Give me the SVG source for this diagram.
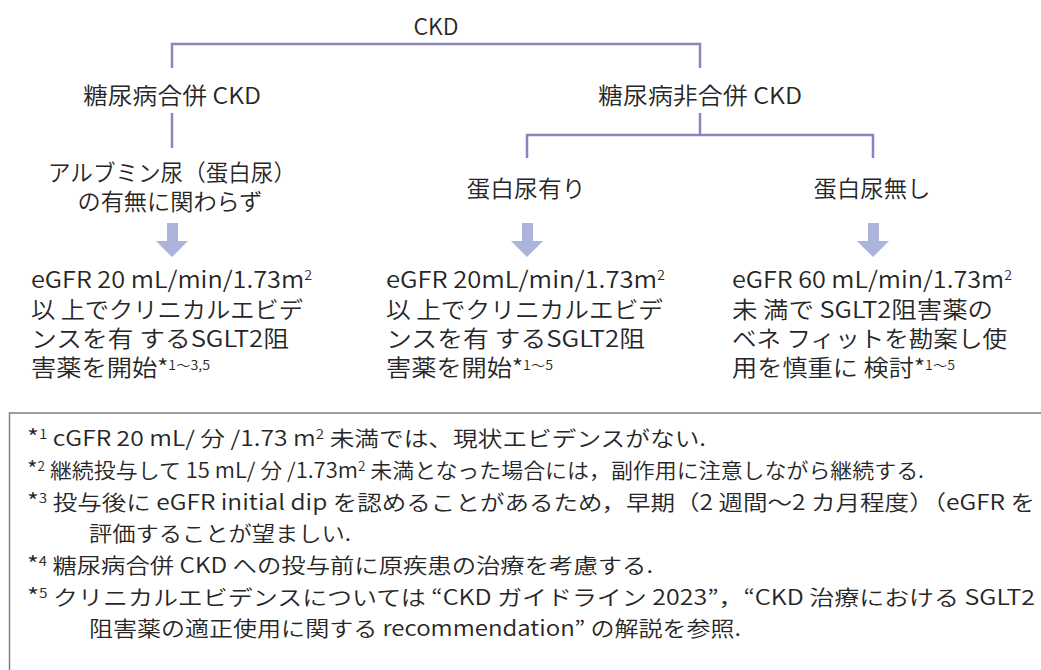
<svg xmlns="http://www.w3.org/2000/svg" width="1041" height="670" viewBox="0 0 1041 670">
<style>
  text { font-family: "Noto Sans CJK JP", "Noto Sans", sans-serif; fill: #262626; font-weight: 350; }
  .h { font-size: 23px; }
  .b { font-size: 23px; }
  .f { font-size: 21px; }
  .sup { font-size: 13px; }
  .ast { font-size: 22px; }
  .conn { fill: none; stroke: #8a84c2; stroke-width: 2.5; }
  .arrow { fill: #adb4dc; }
</style>
<rect width="1041" height="670" fill="#ffffff"/>
<g id="connectors">
  <path class="conn" d="M172,68 V44 H700 V68"/>
  <path class="conn" d="M172,113 V148"/>
  <path class="conn" d="M700,113 V135 M527,158 V135 H873 V158"/>
  <path class="arrow" d="M167,223 H178 V241 H188 L172,257 L156,241 H167 Z"/>
  <path class="arrow" d="M522,223 H533 V241 H543 L527,257 L511,241 H522 Z"/>
  <path class="arrow" d="M868,223 H879 V241 H889 L873,257 L857,241 H868 Z"/>
</g>
<g id="n-ckd"><text class="h" x="436" y="35" text-anchor="middle">CKD</text></g>
<g id="n-dm"><text class="h" x="172" y="104" text-anchor="middle" textLength="178" lengthAdjust="spacingAndGlyphs">糖尿病合併 CKD</text></g>
<g id="n-nondm"><text class="h" x="700" y="104" text-anchor="middle" textLength="204" lengthAdjust="spacingAndGlyphs">糖尿病非合併 CKD</text></g>
<g id="n-alb">
  <text class="h" x="172" y="181" text-anchor="middle" textLength="248" lengthAdjust="spacingAndGlyphs">アルブミン尿（蛋白尿）</text>
  <text class="h" x="170" y="210" text-anchor="middle" textLength="185" lengthAdjust="spacingAndGlyphs">の有無に関わらず</text>
</g>
<g id="n-prot-yes"><text class="h" x="526" y="197" text-anchor="middle" textLength="119" lengthAdjust="spacingAndGlyphs">蛋白尿有り</text></g>
<g id="n-prot-no"><text class="h" x="872" y="197" text-anchor="middle" textLength="117" lengthAdjust="spacingAndGlyphs">蛋白尿無し</text></g>
<g id="n-res1">
  <text class="b" x="31" y="288" textLength="281" lengthAdjust="spacingAndGlyphs">eGFR 20 mL/min/1.73m<tspan class="sup" dy="-8">2</tspan></text>
  <text class="b" x="31" y="318" textLength="272" lengthAdjust="spacingAndGlyphs">以 上でクリニカルエビデ</text>
  <text class="b" x="31" y="347" textLength="258" lengthAdjust="spacingAndGlyphs">ンスを有 するSGLT2阻</text>
  <text class="b" x="31" y="376" textLength="179" lengthAdjust="spacingAndGlyphs">害薬を開始<tspan class="ast">*</tspan><tspan class="sup" dy="-6">1〜3,5</tspan></text>
</g>
<g id="n-res2">
  <text class="b" x="386" y="288" textLength="279" lengthAdjust="spacingAndGlyphs">eGFR 20mL/min/1.73m<tspan class="sup" dy="-8">2</tspan></text>
  <text class="b" x="386" y="318" textLength="277" lengthAdjust="spacingAndGlyphs">以 上でクリニカルエビデ</text>
  <text class="b" x="386" y="347" textLength="259" lengthAdjust="spacingAndGlyphs">ンスを有 するSGLT2阻</text>
  <text class="b" x="386" y="376" textLength="167" lengthAdjust="spacingAndGlyphs">害薬を開始<tspan class="ast">*</tspan><tspan class="sup" dy="-6">1〜5</tspan></text>
</g>
<g id="n-res3">
  <text class="b" x="732" y="288" textLength="280" lengthAdjust="spacingAndGlyphs">eGFR 60 mL/min/1.73m<tspan class="sup" dy="-8">2</tspan></text>
  <text class="b" x="732" y="318" textLength="261" lengthAdjust="spacingAndGlyphs">未 満で SGLT2阻害薬の</text>
  <text class="b" x="732" y="347" textLength="275" lengthAdjust="spacingAndGlyphs">ベネ フィットを勘案し使</text>
  <text class="b" x="732" y="376" textLength="223" lengthAdjust="spacingAndGlyphs">用を慎重に 検討<tspan class="ast">*</tspan><tspan class="sup" dy="-6">1〜5</tspan></text>
</g>
<g id="notes">
  <rect x="9.5" y="413" width="1050" height="280" fill="none" stroke="#808080" stroke-width="1.5"/>
  <text class="f" x="27" y="446" textLength="679" lengthAdjust="spacingAndGlyphs"><tspan class="ast">*</tspan><tspan class="sup" dy="-7">1</tspan><tspan dy="7"> cGFR 20 mL/ 分 /1.73 m</tspan><tspan class="sup" dy="-7">2</tspan><tspan dy="7"> 未満では、現状エビデンスがない.</tspan></text>
  <text class="f" x="27" y="478" textLength="897" lengthAdjust="spacingAndGlyphs"><tspan class="ast">*</tspan><tspan class="sup" dy="-7">2</tspan><tspan dy="7"> 継続投与して 15 mL/ 分 /1.73m</tspan><tspan class="sup" dy="-7">2</tspan><tspan dy="7"> 未満となった場合には，副作用に注意しながら継続する.</tspan></text>
  <text class="f" x="27" y="510" textLength="1008" lengthAdjust="spacingAndGlyphs"><tspan class="ast">*</tspan><tspan class="sup" dy="-7">3</tspan><tspan dy="7"> 投与後に eGFR initial dip を認めることがあるため，早期（2 週間〜2 カ月程度）（eGFR を</tspan></text>
  <text class="f" x="89" y="541" textLength="262" lengthAdjust="spacingAndGlyphs">評価することが望ましい.</text>
  <text class="f" x="27" y="573" textLength="626" lengthAdjust="spacingAndGlyphs"><tspan class="ast">*</tspan><tspan class="sup" dy="-7">4</tspan><tspan dy="7"> 糖尿病合併 CKD への投与前に原疾患の治療を考慮する.</tspan></text>
  <text class="f" x="27" y="605" textLength="1008" lengthAdjust="spacingAndGlyphs"><tspan class="ast">*</tspan><tspan class="sup" dy="-7">5</tspan><tspan dy="7"> クリニカルエビデンスについては “CKD ガイドライン 2023”，“CKD 治療における SGLT2</tspan></text>
  <text class="f" x="89" y="636" textLength="652" lengthAdjust="spacingAndGlyphs">阻害薬の適正使用に関する recommendation” の解説を参照.</text>
</g>
</svg>
